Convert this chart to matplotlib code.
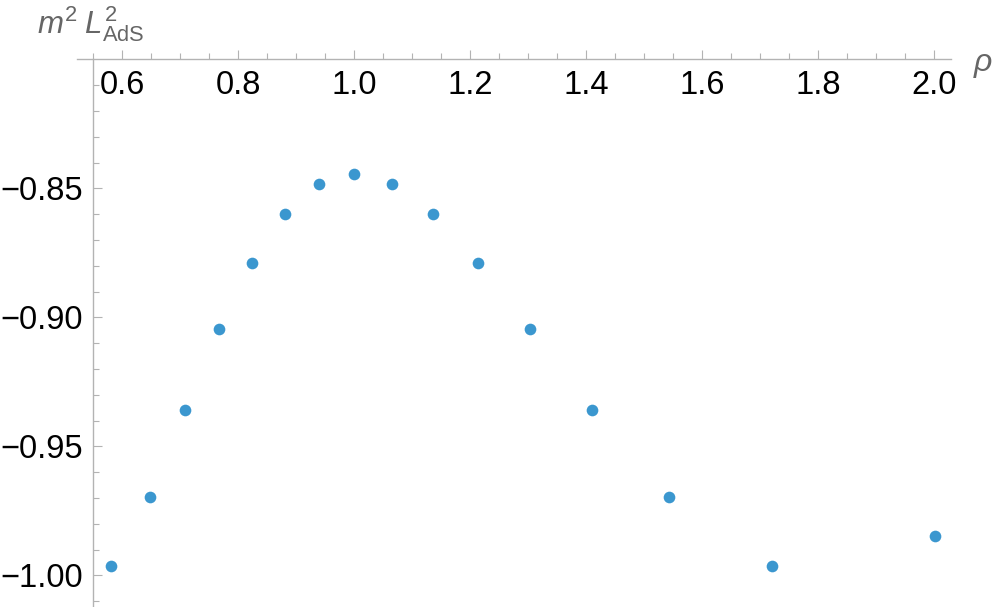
import numpy as np
import matplotlib
matplotlib.use("Agg")
import matplotlib.pyplot as plt
from matplotlib.ticker import FixedLocator

plt.rcParams['font.family'] = ['Liberation Sans', 'DejaVu Sans']
plt.rcParams['mathtext.fontset'] = 'custom'
plt.rcParams['mathtext.rm'] = 'Liberation Sans'
plt.rcParams['mathtext.it'] = 'Liberation Sans:italic'
plt.rcParams['axes.unicode_minus'] = True

# data
rho = [0.5805, 0.648, 0.709, 0.767, 0.8236, 0.881, 0.939, 1.0,
       1.065, 1.1357, 1.2138, 1.3034, 1.41, 1.5426, 1.7212, 2.0017]
m2L2 = [-0.9965, -0.9697, -0.9359, -0.9045, -0.8788, -0.8598, -0.8483, -0.8445,
        -0.8483, -0.8598, -0.8788, -0.9045, -0.9359, -0.9697, -0.9965, -0.9849]

xmajor = [0.6, 0.8, 1.0, 1.2, 1.4, 1.6, 1.8, 2.0]
xlabels = ['0.6', '0.8', '1.0', '1.2', '1.4', '1.6', '1.8', '2.0']
ymajor = [-0.85, -0.90, -0.95, -1.00]
ylabels = ['\u22120.85', '\u22120.90', '\u22120.95', '\u22121.00']

axcol = '#b3b3b3'
ptcol = '#3b97cf'

fig = plt.figure(figsize=(9.97, 6.07), dpi=100)
ax = fig.add_axes([0, 0, 1, 1])

ax.plot(rho, m2L2, 'o', color=ptcol, markersize=8.4, markeredgewidth=0, clip_on=False)

# pixel mapping
ax.set_xlim(0.6 - 122 / 580, 0.6 + 875 / 580)
ax.set_ylim(-0.85 - (607 - 188.3) / 2580, -0.85 + 188.3 / 2580)

for s in ['right', 'top']:
    ax.spines[s].set_visible(False)
ax.spines['bottom'].set_position(('data', -0.80))
ax.spines['left'].set_position(('data', 0.55))
ax.spines['bottom'].set_bounds(0.522, 2.03)
ax.spines['left'].set_bounds(-1.0123, -0.80)
for s in ['bottom', 'left']:
    ax.spines[s].set_color(axcol)
    ax.spines[s].set_linewidth(1.0)

ax.xaxis.set_major_locator(FixedLocator(xmajor))
ax.set_xticklabels(xlabels)
ax.xaxis.set_minor_locator(FixedLocator(np.arange(0.55, 2.01, 0.05)))
ax.yaxis.set_major_locator(FixedLocator(ymajor))
ax.set_yticklabels(ylabels)
ax.yaxis.set_minor_locator(FixedLocator(np.arange(-1.01, -0.805, 0.01)))

ax.tick_params(which='both', direction='in', color=axcol, width=0.8)
ax.tick_params(which='major', length=6.3, labelsize=23.5, labelcolor='black')
ax.tick_params(which='minor', length=4.2)
ax.tick_params(axis='x', which='major', pad=8)
ax.tick_params(axis='y', which='major', pad=7)

fig.text(37 / 997, 1 - 33 / 607, r'$m^2\;L^2_{\mathrm{AdS}}$', color='#666666',
         fontsize=22.5, ha='left', va='baseline')
fig.text(983 / 997, 1 - 65 / 607, r'$\rho$', color='#666666',
         fontsize=23, ha='center', va='center')

fig.savefig('out.png', dpi=100)
